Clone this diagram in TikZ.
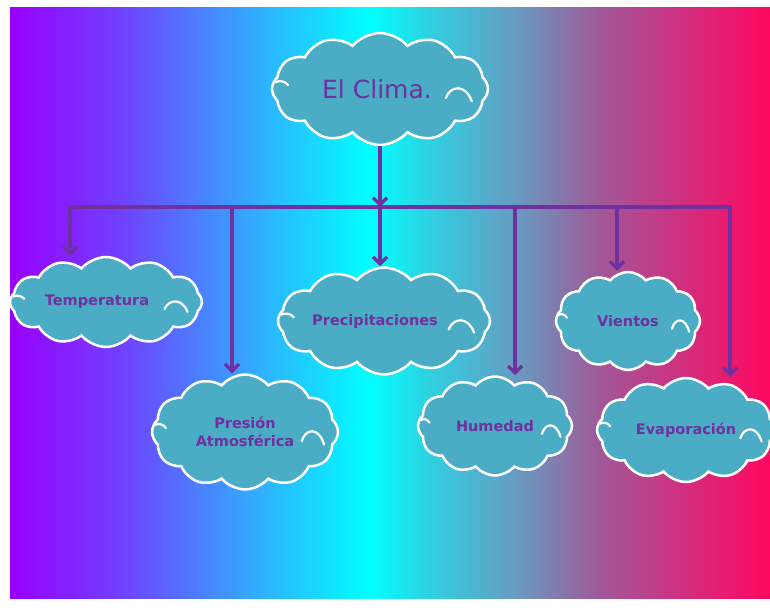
\documentclass[tikz,border=0pt]{standalone}
\usepackage{fontspec}
\setmainfont{DejaVu Sans}
\usetikzlibrary{shapes.symbols,arrows.meta,calc}
\definecolor{cloudfill}{HTML}{4BACC6}
\definecolor{txtpurple}{HTML}{7030A0}
\definecolor{ga}{HTML}{9900FF}
\definecolor{gb}{HTML}{7040FF}
\definecolor{gc}{HTML}{4A80FF}
\definecolor{gd}{HTML}{30B0FF}
\definecolor{ge}{HTML}{00FFFF}
\definecolor{gf}{HTML}{30D0E0}
\definecolor{gg}{HTML}{6A98C0}
\definecolor{gh}{HTML}{A05898}
\definecolor{gi}{HTML}{D03080}
\definecolor{gj}{HTML}{FF0860}
\tikzset{
  cloudbox/.style={cloud, cloud puffs=12, cloud puff arc=100, cloud ignores aspect,
    fill=cloudfill, draw=white, line width=2.5pt, text=txtpurple,
    font=\bfseries\fontsize{14.5}{17.5}\selectfont, align=center, inner sep=0pt},
  curl/.style={draw=white, line width=2.2pt, line cap=round},
  arr/.style={draw=txtpurple, line width=3.2pt, -{Straight Barb[length=7pt,width=14pt]}},
  bar/.style={draw=txtpurple, line width=3.2pt, line cap=rect}
}
\newcommand\cloudcurls[3]{%
  \begin{scope}[shift={(#1.center)}, x=#2pt, y=-#3pt]
    \draw[curl] (0.61,0.16) .. controls (0.65,-0.06) and (0.79,-0.10) .. (0.85,0.22);
    \draw[curl] (-0.97,-0.12) .. controls (-0.93,-0.16) and (-0.88,-0.14) .. (-0.85,-0.07);
  \end{scope}}
\begin{document}
\begin{tikzpicture}[x=1pt,y=-1pt]
\useasboundingbox (0,0) rectangle (770,612);
\fill[white] (0,0) rectangle (770,612);
% background gradient
\shade[left color=ga, right color=gb] (10,8) rectangle (120.5,598);
\shade[left color=gb, right color=gc] (120,8) rectangle (200.5,598);
\shade[left color=gc, right color=gd] (200,8) rectangle (260.5,598);
\shade[left color=gd, right color=ge] (260,8) rectangle (370.5,598);
\shade[left color=ge, right color=gf] (370,8) rectangle (430.5,598);
\shade[left color=gf, right color=gg] (430,8) rectangle (520.5,598);
\shade[left color=gg, right color=gh] (520,8) rectangle (600.5,598);
\shade[left color=gh, right color=gi] (600,8) rectangle (680.5,598);
\shade[left color=gi, right color=gj] (680,8) rectangle (770,598);

% clouds
\node[cloudbox, minimum width=216pt, minimum height=112pt,
      font=\fontsize{25}{30}\selectfont] (clima) at (380,89) {El Clima.\hspace*{6pt}};
\node[cloudbox, minimum width=192pt, minimum height=90pt] (temp) at (106,302) {Temperatura\hspace*{18pt}};
\node[cloudbox, minimum width=186pt, minimum height=115pt] (pres) at (245,432) {Presión\\Atmosférica};
\node[cloudbox, minimum width=212pt, minimum height=107pt] (prec) at (384,321) {Precipitaciones\hspace*{18pt}};
\node[cloudbox, minimum width=154pt, minimum height=99pt] (hum) at (495,426) {Humedad};
\node[cloudbox, minimum width=144pt, minimum height=98pt] (vien) at (628,321) {Vientos};
\node[cloudbox, minimum width=178pt, minimum height=104pt] (evap) at (686,430) {Evaporación};

\cloudcurls{clima}{108}{56}
\cloudcurls{temp}{96}{45}
\cloudcurls{pres}{93}{57}
\cloudcurls{prec}{106}{53}
\cloudcurls{hum}{77}{49}
\cloudcurls{vien}{72}{49}
\cloudcurls{evap}{89}{52}

% connectors
\coordinate (j) at (380,207);
\coordinate (b1) at (70,207);
\coordinate (b2) at (232,207);
\coordinate (b3) at (380,207);
\coordinate (b4) at (515,207);
\coordinate (b5) at (617,207);
\coordinate (b6) at (730,207);
\draw[bar] (b1) -- (b6);
\draw[arr] (clima.south) -- (j);
\draw[arr] (b1) -- (b1 |- temp.north);
\draw[arr] (b2) -- (b2 |- pres.north);
\draw[arr] (b3) -- (b3 |- prec.north);
\draw[arr] (b4) -- (b4 |- hum.north);
\draw[arr] (b5) -- (b5 |- vien.north);
\draw[arr] (b6) -- (b6 |- evap.north);
\end{tikzpicture}
\end{document}
